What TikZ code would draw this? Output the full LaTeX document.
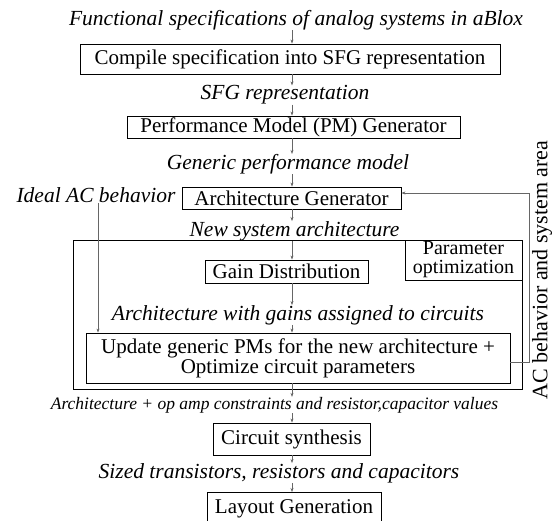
\documentclass[tikz,border=0pt]{standalone}
\usepackage{fontspec}
\setmainfont{Liberation Serif}
\usetikzlibrary{arrows.meta}
\begin{document}
\begin{tikzpicture}[x=1pt,y=-1pt,
  box/.style={draw, line width=0.9pt, inner sep=0pt, align=center,
    font=\fontsize{21}{20}\selectfont},
  lab/.style={inner sep=0pt, font=\fontsize{21.5}{20}\selectfont\itshape},
  flow/.style={draw=black!60, line width=0.5pt, -{Stealth[length=4pt,width=3pt]}},
]
\useasboundingbox (0,0) rectangle (557,521);
\clip (0,0) rectangle (557,521);

% main vertical axis of the flow
\coordinate (axis) at (292,0);

% optimisation loop frame
\node[draw, line width=0.9pt, minimum width=449pt, minimum height=149pt, inner sep=0pt] (loop) at (297.5,314.5) {};
\node[box, minimum width=117pt, minimum height=40pt, font=\fontsize{20}{19}\selectfont] (param) at (463.5,260) {Parameter\\optimization};

% flow steps
\node[lab] (spec) at (296,20) {Functional specifications of analog systems in aBlox};
\node[box, minimum width=420pt, minimum height=30pt] (compile) at (290,59) {Compile specification into SFG representation};
\node[lab] (sfg) at (285,95) {SFG representation};
\node[box, minimum width=333pt, minimum height=22pt] (pmgen) at (293.5,127) {Performance Model (PM) Generator};
\node[lab] (gpm) at (288,164) {Generic performance model};
\node[box, minimum width=219pt, minimum height=22pt] (archgen) at (291.5,198) {Architecture Generator};
\node[lab] (ideal) at (96,195) {Ideal AC behavior};
\node[lab] (newarch) at (294.5,231) {New system architecture};
\node[box, minimum width=163pt, minimum height=23pt] (gain) at (286.5,271.5) {Gain Distribution};
\node[lab] (gains) at (298,315) {Architecture with gains assigned to circuits};
\node[box, minimum width=424pt, minimum height=50pt] (update) at (298,358) {Update generic PMs for the new architecture +\\Optimize circuit parameters};
\node[lab, font=\fontsize{17.5}{18}\selectfont\itshape] (opamp) at (274.5,405) {Architecture + op amp constraints and resistor,capacitor values};
\node[box, minimum width=157pt, minimum height=32pt] (synth) at (291.5,439) {Circuit synthesis};
\node[lab] (sized) at (279,473) {Sized transistors, resistors and capacitors};
\node[box, minimum width=174pt, minimum height=32pt, anchor=north] (layout) at (294,492) {Layout Generation};
\node[inner sep=0pt, rotate=90, font=\fontsize{22}{20}\selectfont] (acarea) at (542,270) {AC behavior and system area};

% connectors along the main axis
\draw[flow] (spec.south -| axis) -- (compile.north -| axis);
\draw[flow] (compile.south -| axis) -- (sfg.north -| axis);
\draw[flow] (sfg.south -| axis) -- (pmgen.north -| axis);
\draw[flow] (pmgen.south -| axis) -- (gpm.north -| axis);
\draw[flow] (gpm.south -| axis) -- (archgen.north -| axis);
\draw[flow] (archgen.south -| axis) -- (newarch.north -| axis);
\draw[flow] (newarch.south -| axis) -- (gain.north -| axis);
\draw[flow] (gain.south -| axis) -- (gains.north -| axis);
\draw[flow] (gains.south -| axis) -- (update.north -| axis);
\draw[flow] (update.south -| axis) -- (opamp.north -| axis);
\draw[flow] (opamp.south -| axis) -- (synth.north -| axis);
\draw[flow] (synth.south -| axis) -- (sized.north -| axis);
\draw[flow] (sized.south -| axis) -- (layout.north -| axis);

% ideal behaviour feeds the update step
\coordinate (idealx) at (98,0);
\draw[flow] (ideal.south -| idealx) -- (update.north -| idealx);

% feedback to the architecture generator
\coordinate (fbx) at (529,0);
\coordinate (fby) at (0,193);
\coordinate (upy) at (0,362);
\draw[flow] (update.east |- upy) -| (fbx |- fby) -- (archgen.east |- fby);
\end{tikzpicture}
\end{document}
